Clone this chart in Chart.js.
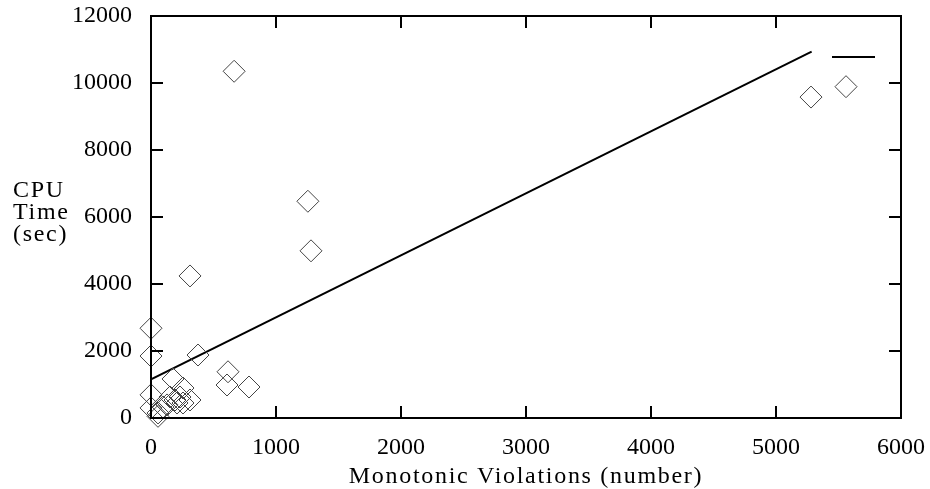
<!DOCTYPE html>
<html><head><meta charset="utf-8">
<script src="https://cdn.jsdelivr.net/npm/chart.js@4.4.1/dist/chart.umd.min.js"></script>
<style>html,body{margin:0;padding:0;background:#fff;overflow:hidden}</style>
</head><body>
<canvas id="c" style="width:930px;height:489px"></canvas>
<script>
// ---- data ----
const violations = [665, 5280, 5560, 1255, 1280, 312, 376, 0, 0, 616, 608, 784, 0, 176, 256, 232, 312, 256, 0, 56, 96, 128, 192, 152, 208, 56];
const cpuTime    = [10350, 9580, 9890, 6470, 4990, 4240, 1880, 2680, 1850, 1380, 985, 925, 690, 1165, 895, 627, 537, 448, 300, 150, 330, 390, 537, 627, 448, 50];
const fitX = [0, 5285];
const fitY = [1155, 10934];
const xTickValues = [0, 1000, 2000, 3000, 4000, 5000, 6000];
const yTickValues = [0, 2000, 4000, 6000, 8000, 10000, 12000];
const xTitle = 'Monotonic Violations (number)';
const yTitleLines = ['CPU', 'Time', '(sec)'];

const FONT = 'Liberation Serif';

const framePlugin = {
  id: 'frame',
  beforeDraw(chart) {
    const s = chart.scales.x;
    if (s && !s._lsPatched) {
      const orig = s.drawTitle;
      s.drawTitle = function () {
        const ctx = this.ctx; ctx.save(); ctx.letterSpacing = '1.7px'; orig.call(this); ctx.restore();
      };
      s._lsPatched = true;
    }
  },
  afterDraw(chart) {
    const {ctx, chartArea: a, scales: {x, y}} = chart;
    ctx.save();
    ctx.strokeStyle = '#000';
    ctx.lineWidth = 2;
    ctx.strokeRect(a.left, a.top, a.right - a.left, a.bottom - a.top);
    const L = 12;
    ctx.beginPath();
    xTickValues.forEach(v => {
      const px = x.getPixelForValue(v);
      ctx.moveTo(px, a.bottom); ctx.lineTo(px, a.bottom - L);
      ctx.moveTo(px, a.top); ctx.lineTo(px, a.top + L);
    });
    yTickValues.forEach(v => {
      const py = y.getPixelForValue(v);
      ctx.moveTo(a.left, py); ctx.lineTo(a.left + L, py);
      ctx.moveTo(a.right, py); ctx.lineTo(a.right - L, py);
    });
    ctx.stroke();
    // legend key (unlabeled) for the fitted line
    ctx.beginPath();
    ctx.moveTo(a.right - 69, a.top + 41);
    ctx.lineTo(a.right - 26, a.top + 41);
    ctx.stroke();
    // y-axis title, horizontal, three lines
    ctx.fillStyle = '#000';
    ctx.font = '24px "' + FONT + '"';
    ctx.letterSpacing = '1.7px';
    ctx.textAlign = 'left';
    ctx.textBaseline = 'alphabetic';
    yTitleLines.forEach((t, i) => ctx.fillText(t, 13, 197 + i * 22));
    ctx.restore();
  }
};

new Chart(document.getElementById('c'), {
  data: {
    datasets: [
      {
        type: 'scatter',
        data: violations.map((v, i) => ({x: v, y: cpuTime[i]})),
        pointStyle: 'rectRot',
        pointRadius: 11,
        pointHoverRadius: 11,
        borderColor: '#444',
        backgroundColor: 'rgba(0,0,0,0)',
        pointBorderWidth: 1,
        clip: false
      },
      {
        type: 'line',
        data: fitX.map((v, i) => ({x: v, y: fitY[i]})),
        borderColor: '#000',
        borderWidth: 2,
        pointRadius: 0,
        fill: false
      }
    ]
  },
  options: {
    responsive: false,
    animation: false,
    devicePixelRatio: 1,
    layout: {padding: {top: 16, right: 29, left: 0, bottom: 0}},
    plugins: {legend: {display: false}, tooltip: {enabled: false}},
    scales: {
      x: {
        type: 'linear', min: 0, max: 6000,
        afterFit: s => { s.height = 71; s.paddingLeft = 0; s.paddingRight = 0; },
        afterBuildTicks: s => { s.ticks = xTickValues.map(v => ({value: v})); },
        grid: {display: false, drawTicks: false},
        border: {display: false},
        ticks: {color: '#000', padding: 18, maxRotation: 0, callback: v => String(v), font: {family: FONT, size: 24, lineHeight: 1}},
        title: {display: true, text: xTitle, color: '#000', padding: 0, font: {family: FONT, size: 24, lineHeight: 1}}
      },
      y: {
        type: 'linear', min: 0, max: 12000,
        afterFit: s => { s.width = 151; s.paddingTop = 0; s.paddingBottom = 0; },
        afterBuildTicks: s => { s.ticks = yTickValues.map(v => ({value: v})); },
        grid: {display: false, drawTicks: false},
        border: {display: false},
        ticks: {color: '#000', padding: 19, callback: v => String(v), font: {family: FONT, size: 24, lineHeight: 1}}
      }
    }
  },
  plugins: [framePlugin]
});
</script>
</body></html>
